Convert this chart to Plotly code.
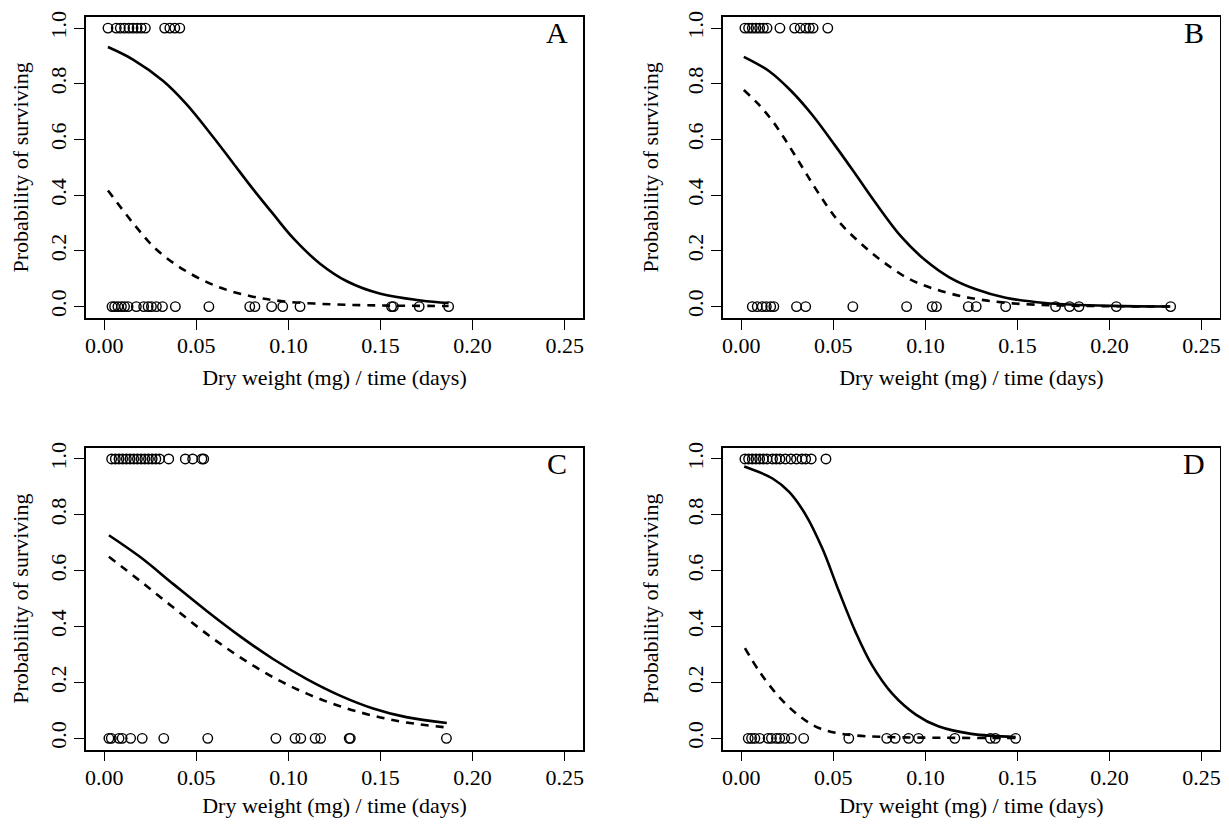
import plotly.graph_objects as go

# ---- data ----
panels = ["A", "B", "C", "D"]

A_surv_x = [0.002, 0.0065, 0.0087, 0.011, 0.0134, 0.0156, 0.0178, 0.020, 0.0223, 0.0328, 0.0356, 0.0383, 0.041]
A_dead_x = [0.0042, 0.0056, 0.0074, 0.0093, 0.011, 0.0129, 0.0174, 0.0214, 0.0238, 0.0256, 0.0283, 0.0316,
            0.0386, 0.0568, 0.079, 0.0818, 0.0909, 0.0969, 0.1063, 0.156, 0.157, 0.171, 0.187]
A_solid_x = [0.002, 0.0156, 0.032, 0.0446, 0.059, 0.070, 0.081, 0.092, 0.1027, 0.117, 0.132, 0.150, 0.172, 0.187]
A_solid_y = [0.932, 0.887, 0.810, 0.727, 0.610, 0.515, 0.420, 0.330, 0.245, 0.155, 0.090, 0.046, 0.022, 0.013]
A_dash_x = [0.002, 0.0156, 0.028, 0.043, 0.061, 0.079, 0.097, 0.124, 0.150, 0.187]
A_dash_y = [0.417, 0.30, 0.207, 0.133, 0.073, 0.038, 0.019, 0.008, 0.004, 0.002]

B_surv_x = [0.002, 0.004, 0.006, 0.008, 0.010, 0.012, 0.014, 0.021, 0.029, 0.032, 0.035, 0.037, 0.039, 0.047]
B_dead_x = [0.006, 0.0087, 0.0114, 0.0136, 0.016, 0.0177, 0.030, 0.035, 0.0606, 0.0898, 0.1037, 0.106,
            0.1233, 0.1276, 0.1436, 0.1707, 0.1783, 0.1834, 0.2037, 0.2332]
B_solid_x = [0.0014, 0.015, 0.027, 0.0386, 0.051, 0.062, 0.073, 0.087, 0.100, 0.113, 0.127, 0.1436, 0.165, 0.2015, 0.233]
B_solid_y = [0.897, 0.846, 0.775, 0.688, 0.578, 0.476, 0.372, 0.250, 0.166, 0.105, 0.063, 0.032, 0.013, 0.0025, 0.0005]
B_dash_x = [0.0014, 0.0096, 0.0168, 0.024, 0.033, 0.042, 0.053, 0.0657, 0.078, 0.091, 0.1055, 0.1236, 0.145, 0.174, 0.233]
B_dash_y = [0.778, 0.725, 0.668, 0.598, 0.502, 0.407, 0.305, 0.222, 0.156, 0.100, 0.062, 0.032, 0.013, 0.004, 0.0003]

C_surv_x = [0.004, 0.006, 0.008, 0.010, 0.012, 0.014, 0.016, 0.018, 0.020, 0.022, 0.024, 0.026, 0.028, 0.030,
            0.035, 0.044, 0.048, 0.053, 0.054]
C_dead_x = [0.0025, 0.0038, 0.008, 0.0097, 0.0143, 0.0206, 0.0323, 0.0562, 0.0932, 0.1036, 0.1067, 0.1145,
            0.1175, 0.133, 0.1336, 0.1858]
C_solid_x = [0.0025, 0.0197, 0.0377, 0.0558, 0.0738, 0.0919, 0.11, 0.128, 0.146, 0.164, 0.186]
C_solid_y = [0.727, 0.648, 0.551, 0.455, 0.365, 0.283, 0.212, 0.153, 0.107, 0.076, 0.055]
C_dash_x = [0.0025, 0.0197, 0.0377, 0.0558, 0.0738, 0.0919, 0.11, 0.128, 0.146, 0.164, 0.186]
C_dash_y = [0.65, 0.562, 0.467, 0.373, 0.290, 0.218, 0.160, 0.115, 0.081, 0.057, 0.039]

D_surv_x = [0.002, 0.004, 0.006, 0.008, 0.010, 0.012, 0.014, 0.017, 0.019, 0.021, 0.024, 0.027, 0.030, 0.033,
            0.035, 0.038, 0.046]
D_dead_x = [0.0038, 0.0056, 0.0074, 0.010, 0.0146, 0.0164, 0.0191, 0.0209, 0.0236, 0.0272, 0.0339, 0.0584,
            0.079, 0.0836, 0.0909, 0.0963, 0.116, 0.1353, 0.138, 0.149]
D_solid_x = [0.0016, 0.017, 0.026, 0.035, 0.044, 0.053, 0.062, 0.071, 0.082, 0.095, 0.107, 0.125, 0.149]
D_solid_y = [0.973, 0.930, 0.882, 0.800, 0.680, 0.527, 0.382, 0.262, 0.160, 0.084, 0.043, 0.016, 0.005]
D_dash_x = [0.002, 0.010, 0.021, 0.032, 0.0425, 0.0568, 0.078, 0.110, 0.149]
D_dash_y = [0.323, 0.238, 0.145, 0.078, 0.036, 0.014, 0.005, 0.002, 0.001]

x_ticks = [0.00, 0.05, 0.10, 0.15, 0.20, 0.25]
x_tick_labels = ["0.00", "0.05", "0.10", "0.15", "0.20", "0.25"]
y_ticks = [0.0, 0.2, 0.4, 0.6, 0.8, 1.0]
y_tick_labels = ["0.0", "0.2", "0.4", "0.6", "0.8", "1.0"]
x_title = "Dry weight (mg) / time (days)"
y_title = "Probability of surviving"

data = {
    "A": (A_surv_x, A_dead_x, A_solid_x, A_solid_y, A_dash_x, A_dash_y),
    "B": (B_surv_x, B_dead_x, B_solid_x, B_solid_y, B_dash_x, B_dash_y),
    "C": (C_surv_x, C_dead_x, C_solid_x, C_solid_y, C_dash_x, C_dash_y),
    "D": (D_surv_x, D_dead_x, D_solid_x, D_solid_y, D_dash_x, D_dash_y),
}

# ---- layout geometry ----
# the page body has an 8px margin, so the figure is sized to fit inside it
OFF = 8
W, H = 1221, 810
col_px = [(85, 583), (723, 1221)]     # target page pixels
row_px = [(11, 314), (445, 749)]
FONT = "Liberation Serif, Times New Roman, serif"

fig = go.Figure()
layout = dict(
    width=W, height=H, margin=dict(l=0, r=0, t=0, b=0),
    paper_bgcolor="white", plot_bgcolor="white", showlegend=False,
    font=dict(family=FONT, size=22, color="black"),
    annotations=[],
)

for i, p in enumerate(panels):
    r, c = divmod(i, 2)
    xa = "x" if i == 0 else f"x{i+1}"
    ya = "y" if i == 0 else f"y{i+1}"
    xkey = "xaxis" if i == 0 else f"xaxis{i+1}"
    ykey = "yaxis" if i == 0 else f"yaxis{i+1}"
    x0, x1 = col_px[c]
    y0, y1 = row_px[r]
    surv_x, dead_x, sx, sy, dx, dy = data[p]

    fig.add_trace(go.Scatter(x=sx, y=sy, mode="lines", xaxis=xa, yaxis=ya,
                             line=dict(color="black", width=2.6, shape="spline", smoothing=1.0)))
    fig.add_trace(go.Scatter(x=dx, y=dy, mode="lines", xaxis=xa, yaxis=ya,
                             line=dict(color="black", width=2.6, dash="8px,7px", shape="spline", smoothing=1.0)))
    fig.add_trace(go.Scatter(x=surv_x, y=[1.0] * len(surv_x), mode="markers", xaxis=xa, yaxis=ya,
                             marker=dict(symbol="circle-open", size=9.5, color="black", line=dict(width=1.4))))
    fig.add_trace(go.Scatter(x=dead_x, y=[0.0] * len(dead_x), mode="markers", xaxis=xa, yaxis=ya,
                             marker=dict(symbol="circle-open", size=9.5, color="black", line=dict(width=1.4))))

    layout[xkey] = dict(
        domain=[(x0 - OFF) / W, (x1 - OFF) / W], anchor=ya, range=[-0.01, 0.26],
        tickvals=x_ticks, ticktext=x_tick_labels, ticks="outside", ticklen=10, tickwidth=1.3,
        tickcolor="black", showline=True, linecolor="black", linewidth=1.6, mirror=True,
        showgrid=False, zeroline=False, tickfont=dict(family=FONT, size=22, color="black"),
        ticklabelstandoff=-3,
        title=dict(text=x_title, font=dict(family=FONT, size=22, color="black"), standoff=13),
    )
    layout[ykey] = dict(
        domain=[1 - (y1 - OFF) / H, 1 - (y0 - OFF) / H], anchor=xa, range=[-0.04, 1.04],
        tickvals=y_ticks, ticktext=y_tick_labels, ticks="outside", ticklen=10, tickwidth=1.3,
        tickcolor="black", showline=True, linecolor="black", linewidth=1.6, mirror=True,
        showgrid=False, zeroline=False, tickangle=-90, ticklabelstandoff=-1,
        tickfont=dict(family=FONT, size=22, color="black"),
        title=dict(text=y_title, font=dict(family=FONT, size=22, color="black"), standoff=19),
    )
    layout["annotations"].append(dict(
        text=p, xref=xa, yref=ya, x=0.246, y=0.985, showarrow=False,
        xanchor="center", yanchor="middle", font=dict(family=FONT, size=30, color="black"),
    ))

fig.update_layout(**layout)
fig.write_html("out.html")
